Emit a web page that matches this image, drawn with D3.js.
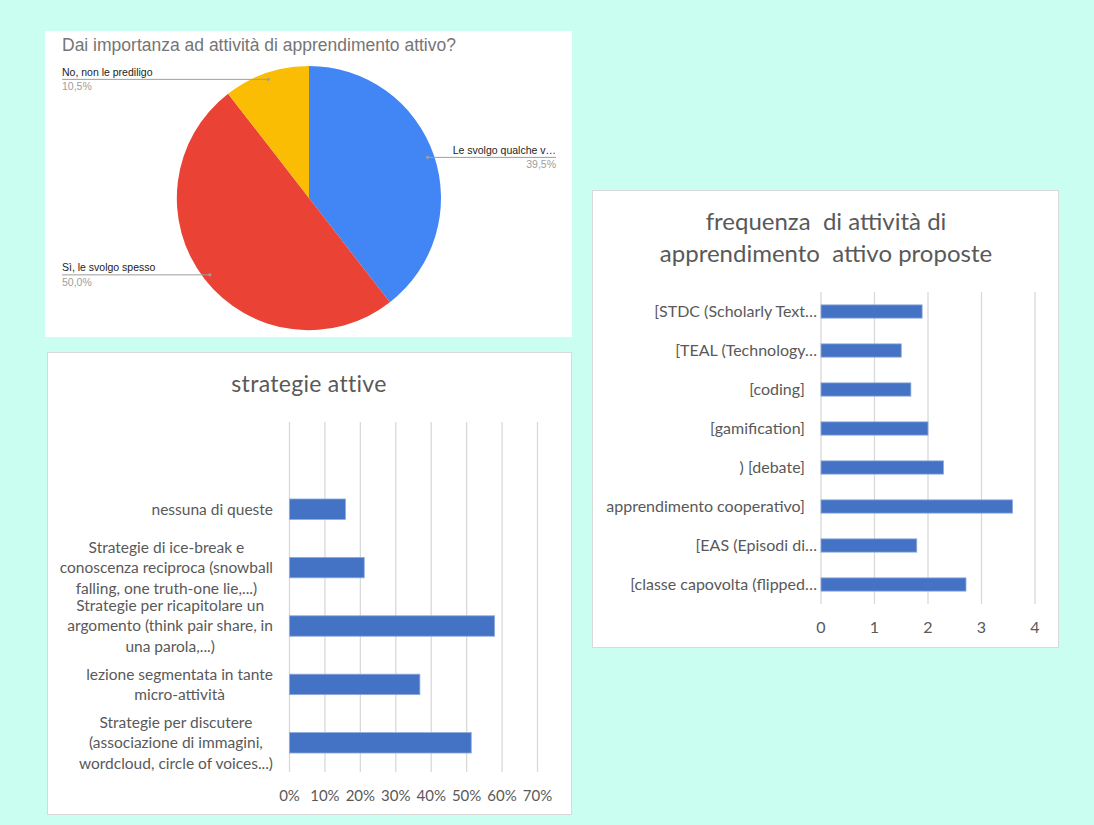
<!DOCTYPE html>
<html>
<head>
<meta charset="utf-8">
<script src="https://cdn.jsdelivr.net/npm/d3@7"></script>
<style>
  html, body { margin: 0; padding: 0; background: #c9fef0; }
  svg { display: block; }
  text { white-space: pre; }
</style>
</head>
<body>
<svg id="chart" width="1094" height="825"></svg>
<script>
// ---- Pie: "Dai importanza ad attività di apprendimento attivo?"
const pieTitle = "Dai importanza ad attività di apprendimento attivo?";
const pieLabels = ["Le svolgo qualche v\u2026", "Sì, le svolgo spesso", "No, non le prediligo"];
const pieValues = [39.5, 50.0, 10.5];
const pieColors = ["#4285f4", "#ea4335", "#fbbc04"];

// ---- Bar: "strategie attive"
const strategyTitle = "strategie attive";
const strategyLabels = [
  ["nessuna di queste"],
  ["Strategie di ice-break e", "conoscenza reciproca (snowball", "falling, one truth-one lie,...)"],
  ["Strategie per ricapitolare un", "argomento (think pair share, in", "una parola,...)"],
  ["lezione segmentata in tante", "micro-attività"],
  ["Strategie per discutere", "(associazione di immagini,", "wordcloud, circle of voices...)"]
];
const strategyValues = [0.158, 0.211, 0.579, 0.368, 0.513];
const strategyTicks = [0, 0.1, 0.2, 0.3, 0.4, 0.5, 0.6, 0.7];

// ---- Bar: "frequenza di attività di apprendimento attivo proposte"
const freqTitle = ["frequenza  di attività di", "apprendimento  attivo proposte"];
const freqLabels = [
  "[STDC (Scholarly Text\u2026",
  "[TEAL (Technology\u2026",
  "[coding]",
  "[gamification]",
  ") [debate]",
  "apprendimento cooperativo]",
  "[EAS (Episodi di\u2026",
  "[classe capovolta (flipped\u2026"
];
const freqValues = [1.89, 1.50, 1.68, 2.00, 2.29, 3.58, 1.79, 2.71];
const freqTicks = [0, 1, 2, 3, 4];

const svg = d3.select("#chart");
const excelFont = "Lato, 'Open Sans', sans-serif";
const textGrey = "#595959";
const gridGrey = "#d9d9d9";
const barBlue = "#4472c4";

// ================= Pie panel =================
const pie = svg.append("g");
pie.append("rect").attr("x", 45).attr("y", 31).attr("width", 527).attr("height", 306).attr("fill", "#fff");
pie.append("text").attr("x", 62).attr("y", 51)
  .attr("font-family", "'Liberation Sans', Arial, sans-serif").attr("font-size", 17.5)
  .attr("fill", "#757575").text(pieTitle);

const cx = 309, cy = 198, r = 132;
const arcs = d3.pie().sort(null).value(d => d)(pieValues);
const arc = d3.arc().innerRadius(0).outerRadius(r);
const anchorArc = d3.arc().innerRadius(r * 0.95).outerRadius(r * 0.95);
const pg = pie.append("g").attr("transform", `translate(${cx},${cy})`);
pg.selectAll("path").data(arcs).join("path")
  .attr("d", arc).attr("fill", (d, i) => pieColors[i]);

const labelFont = "'Liberation Sans', Arial, sans-serif";
arcs.forEach((d, i) => {
  const [ax, ay] = anchorArc.centroid(d);
  const px = cx + ax, py = cy + ay;
  const mid = (d.startAngle + d.endAngle) / 2;
  const right = mid < Math.PI;
  const x0 = right ? px : 62;
  const x1 = right ? 556 : px;
  pie.append("line").attr("x1", x0).attr("x2", x1).attr("y1", py).attr("y2", py)
    .attr("stroke", "#9e9e9e").attr("stroke-width", 1);
  pie.append("circle").attr("cx", px).attr("cy", py).attr("r", 1.6).attr("fill", "#9e9e9e");
  const tx = right ? 556 : 62;
  const anchor = right ? "end" : "start";
  pie.append("text").attr("x", tx).attr("y", py - 3.5).attr("text-anchor", anchor)
    .attr("font-family", labelFont).attr("font-size", 10.5).attr("fill", "#222")
    .text(pieLabels[i]);
  pie.append("text").attr("x", tx).attr("y", py + 11).attr("text-anchor", anchor)
    .attr("font-family", labelFont).attr("font-size", 10.5).attr("fill", "#9e9e9e")
    .text(d3.format(".1f")(pieValues[i]).replace(".", ",") + "%");
});

// ================= "strategie attive" panel =================
const s = svg.append("g");
s.append("rect").attr("x", 47.5).attr("y", 352.5).attr("width", 524).attr("height", 462)
  .attr("fill", "#fff").attr("stroke", "#d9d9d9").attr("stroke-width", 1);
s.append("text").attr("x", 309).attr("y", 392).attr("text-anchor", "middle")
  .attr("font-family", excelFont).attr("font-size", 23).attr("fill", textGrey)
  .attr("letter-spacing", 0.3)
  .text(strategyTitle);

const sx = d3.scaleLinear().domain([0, 0.7]).range([289.5, 537.5]);
const sy = d3.scaleBand().domain(strategyLabels.map((d, i) => i))
  .range([480, 772]).paddingInner(0.65).paddingOuter(0.325);
const sGridTop = 422, sGridBottom = 772;

s.append("g").selectAll("line").data(strategyTicks).join("line")
  .attr("x1", d => sx(d)).attr("x2", d => sx(d))
  .attr("y1", sGridTop).attr("y2", sGridBottom)
  .attr("stroke", gridGrey).attr("stroke-width", 1.3);

s.append("g").selectAll("rect").data(strategyValues).join("rect")
  .attr("x", sx(0)).attr("y", (d, i) => sy(i))
  .attr("width", d => sx(d) - sx(0)).attr("height", sy.bandwidth())
  .attr("fill", barBlue).attr("stroke", "#8faadc").attr("stroke-width", 0.8);

s.append("g").selectAll("text").data(strategyTicks).join("text")
  .attr("x", d => sx(d)).attr("y", 800.5).attr("text-anchor", "middle")
  .attr("font-family", excelFont).attr("font-size", 15).attr("fill", textGrey)
  .text(d3.format(".0%"));

// wrapped category labels: lines centred on each other, block right-aligned
const sLabelRight = 273, sLineH = 20.5;
const labelBlocks = strategyLabels.map((lines, i) => {
  const g = s.append("g");
  const yc = sy(i) + sy.bandwidth() / 2;
  const texts = lines.map((l, k) => g.append("text")
    .attr("font-family", excelFont).attr("font-size", 15.5).attr("fill", textGrey)
    .attr("text-anchor", "middle")
    .attr("y", yc + (k - (lines.length - 1) / 2) * sLineH)
    .attr("dy", "0.35em")
    .text(l));
  return texts;
});
function layoutLabels() {
  labelBlocks.forEach(texts => {
    const w = d3.max(texts, t => t.node().getBBox().width);
    texts.forEach(t => t.attr("x", sLabelRight - w / 2));
  });
}
layoutLabels();
if (document.fonts && document.fonts.ready) document.fonts.ready.then(layoutLabels);
requestAnimationFrame(layoutLabels);
setTimeout(layoutLabels, 200);

// ================= "frequenza" panel =================
const f = svg.append("g");
f.append("rect").attr("x", 592.5).attr("y", 190.5).attr("width", 466).attr("height", 457)
  .attr("fill", "#fff").attr("stroke", "#d9d9d9").attr("stroke-width", 1);
f.selectAll("text.title").data(freqTitle).join("text").attr("class", "title")
  .attr("x", 826).attr("y", (d, i) => 229.5 + i * 32).attr("text-anchor", "middle")
  .attr("font-family", excelFont).attr("font-size", 24).attr("fill", textGrey)
  .text(d => d);

const fx = d3.scaleLinear().domain([0, 4]).range([821, 1035]);
const fy = d3.scaleBand().domain(freqLabels).range([292, 604])
  .paddingInner(0.66).paddingOuter(0.33);

f.append("g").selectAll("line").data(freqTicks).join("line")
  .attr("x1", d => fx(d)).attr("x2", d => fx(d))
  .attr("y1", 292).attr("y2", 604)
  .attr("stroke", gridGrey).attr("stroke-width", 1.3);

f.append("g").selectAll("rect").data(freqValues).join("rect")
  .attr("x", fx(0)).attr("y", (d, i) => fy(freqLabels[i]))
  .attr("width", d => fx(d) - fx(0)).attr("height", fy.bandwidth())
  .attr("fill", barBlue).attr("stroke", "#8faadc").attr("stroke-width", 0.8);

f.append("g").selectAll("text").data(freqTicks).join("text")
  .attr("x", d => fx(d)).attr("y", 632.5).attr("text-anchor", "middle")
  .attr("font-family", excelFont).attr("font-size", 16).attr("fill", textGrey)
  .text(d => d);

f.append("g").selectAll("text").data(freqLabels).join("text")
  .attr("x", d => d.endsWith("\u2026") ? 817 : 805)
  .attr("y", d => fy(d) + fy.bandwidth() / 2).attr("dy", "0.35em")
  .attr("text-anchor", "end")
  .attr("font-family", excelFont).attr("font-size", 16).attr("fill", textGrey)
  .text(d => d);
</script>
</body>
</html>
